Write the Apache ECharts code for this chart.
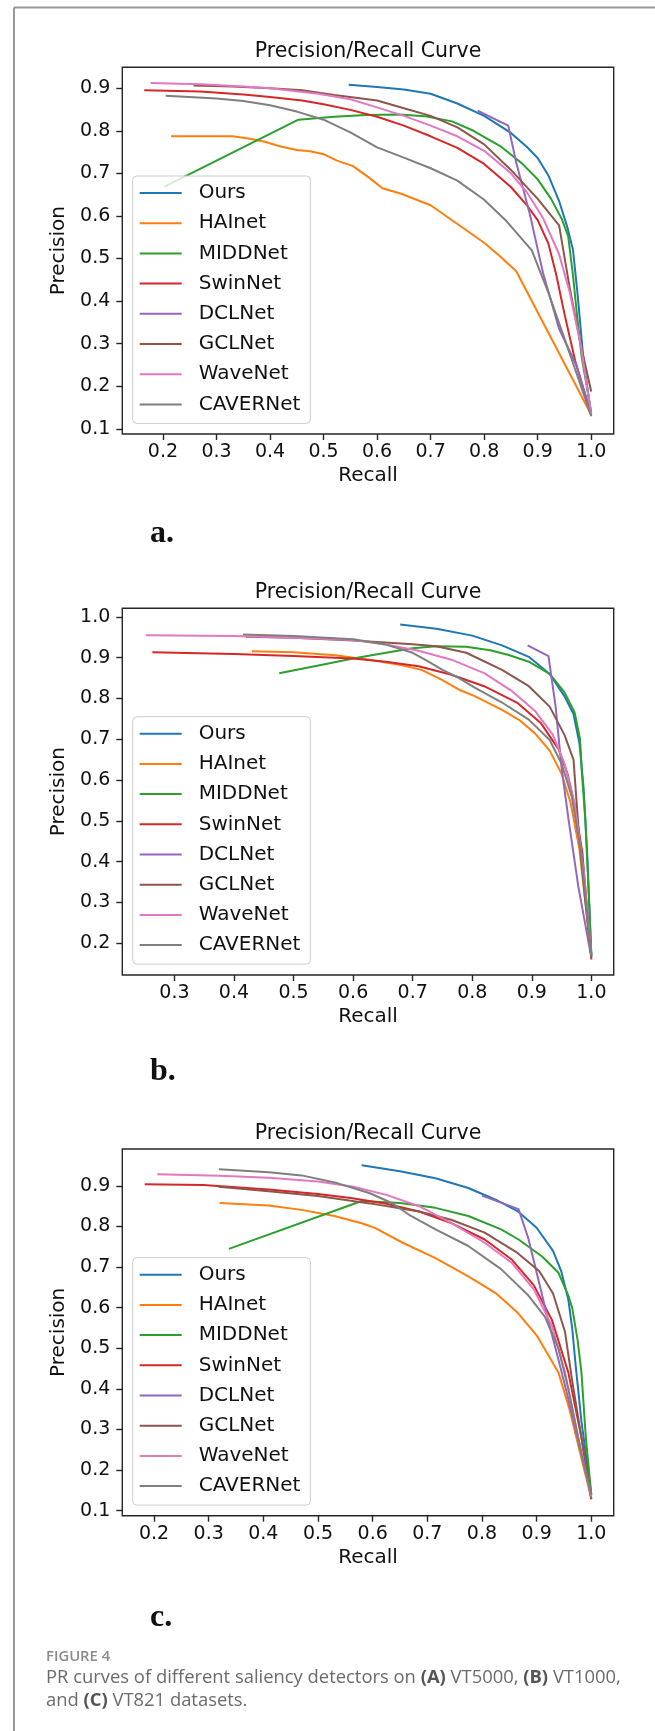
<!DOCTYPE html>
<html><head><meta charset="utf-8">
<script src="https://cdn.jsdelivr.net/npm/echarts@6/dist/echarts.min.js"></script>
<style>html,body{margin:0;padding:0;background:#fff;}#chart{width:655px;height:1731px;}</style>
</head><body><div id="chart"></div>
<script>
// ---------- data ----------
const SERIES_NAMES = ['Ours','HAInet','MIDDNet','SwinNet','DCLNet','GCLNet','WaveNet','CAVERNet'];

// panel a (VT5000)
const A_OURS = [[0.547,0.908],[0.6,0.903],[0.65,0.897],[0.7,0.887],[0.75,0.864],[0.8,0.835],[0.85,0.795],[0.88,0.762],[0.9,0.736],[0.92,0.695],[0.94,0.635],[0.955,0.575],[0.966,0.52],[0.975,0.41],[0.985,0.27],[1.0,0.13]];
const A_HAINET = [[0.215,0.787],[0.26,0.787],[0.33,0.787],[0.36,0.782],[0.39,0.774],[0.42,0.763],[0.45,0.755],[0.475,0.752],[0.5,0.745],[0.525,0.73],[0.555,0.717],[0.585,0.69],[0.61,0.665],[0.645,0.652],[0.7,0.625],[0.74,0.59],[0.8,0.537],[0.83,0.505],[0.86,0.47],[1.0,0.133]];
const A_MIDDNET = [[0.203,0.669],[0.453,0.826],[0.52,0.833],[0.58,0.837],[0.64,0.838],[0.69,0.834],[0.74,0.822],[0.78,0.8],[0.83,0.764],[0.87,0.724],[0.9,0.686],[0.925,0.64],[0.945,0.593],[0.957,0.552],[0.966,0.46],[0.974,0.36],[0.982,0.27],[1.0,0.14]];
const A_SWINNET = [[0.165,0.895],[0.27,0.892],[0.35,0.885],[0.4,0.879],[0.46,0.871],[0.5,0.862],[0.55,0.849],[0.6,0.833],[0.65,0.812],[0.7,0.787],[0.75,0.76],[0.8,0.722],[0.85,0.668],[0.88,0.625],[0.9,0.59],[0.92,0.535],[0.935,0.46],[0.95,0.37],[0.97,0.26],[1.0,0.133]];
const A_DCLNET = [[0.788,0.847],[0.845,0.812],[0.86,0.725],[0.885,0.606],[0.91,0.466],[0.94,0.335],[0.972,0.25],[1.0,0.135]];
const A_GCLNET = [[0.257,0.906],[0.33,0.904],[0.4,0.9],[0.46,0.895],[0.52,0.884],[0.6,0.871],[0.65,0.853],[0.7,0.835],[0.75,0.808],[0.8,0.768],[0.85,0.708],[0.9,0.64],[0.94,0.578],[0.96,0.43],[0.98,0.3],[1.0,0.188]];
const A_WAVENET = [[0.177,0.912],[0.27,0.909],[0.35,0.904],[0.4,0.9],[0.49,0.887],[0.55,0.874],[0.6,0.855],[0.65,0.835],[0.7,0.812],[0.75,0.787],[0.8,0.753],[0.85,0.7],[0.88,0.655],[0.91,0.595],[0.94,0.51],[0.96,0.42],[0.98,0.3],[1.0,0.135]];
const A_CAVERNET = [[0.205,0.882],[0.3,0.876],[0.35,0.87],[0.4,0.86],[0.45,0.845],[0.5,0.826],[0.55,0.796],[0.6,0.761],[0.65,0.737],[0.7,0.712],[0.75,0.683],[0.8,0.638],[0.84,0.59],[0.889,0.519],[0.92,0.42],[0.945,0.33],[0.97,0.24],[1.0,0.13]];

// panel b (VT1000)
const B_OURS = [[0.679,0.981],[0.74,0.971],[0.8,0.954],[0.85,0.93],[0.895,0.902],[0.93,0.86],[0.955,0.805],[0.97,0.762],[0.98,0.69],[0.987,0.58],[0.993,0.42],[1.0,0.17]];
const B_HAINET = [[0.43,0.916],[0.5,0.913],[0.57,0.906],[0.63,0.894],[0.68,0.882],[0.715,0.87],[0.75,0.845],[0.78,0.82],[0.805,0.805],[0.85,0.772],[0.88,0.746],[0.905,0.715],[0.93,0.672],[0.95,0.615],[0.965,0.545],[0.98,0.43],[1.0,0.17]];
const B_MIDDNET = [[0.476,0.862],[0.55,0.883],[0.6,0.898],[0.66,0.913],[0.7,0.923],[0.74,0.928],[0.79,0.927],[0.83,0.918],[0.86,0.907],[0.895,0.89],[0.93,0.86],[0.955,0.815],[0.972,0.765],[0.981,0.7],[0.984,0.62],[0.99,0.5],[0.995,0.34],[1.0,0.17]];
const B_SWINNET = [[0.263,0.913],[0.4,0.909],[0.5,0.904],[0.6,0.898],[0.655,0.89],[0.71,0.879],[0.765,0.858],[0.82,0.83],[0.875,0.79],[0.915,0.74],[0.945,0.675],[0.96,0.615],[0.972,0.54],[0.985,0.42],[1.0,0.16]];
const B_DCLNET = [[0.893,0.93],[0.928,0.904],[0.94,0.78],[0.95,0.63],[0.962,0.5],[0.978,0.34],[1.0,0.165]];
const B_GCLNET = [[0.42,0.951],[0.5,0.949],[0.6,0.942],[0.7,0.933],[0.74,0.928],[0.79,0.912],[0.85,0.87],[0.895,0.83],[0.93,0.78],[0.955,0.71],[0.97,0.65],[0.98,0.45],[0.99,0.3],[1.0,0.165]];
const B_WAVENET = [[0.252,0.955],[0.4,0.953],[0.5,0.949],[0.6,0.943],[0.655,0.932],[0.71,0.917],[0.765,0.895],[0.82,0.862],[0.865,0.82],[0.905,0.77],[0.935,0.712],[0.955,0.64],[0.972,0.54],[0.987,0.38],[1.0,0.17]];
const B_CAVERNET = [[0.415,0.957],[0.5,0.953],[0.6,0.945],[0.655,0.932],[0.7,0.912],[0.72,0.896],[0.75,0.87],[0.775,0.852],[0.805,0.826],[0.85,0.79],[0.895,0.748],[0.93,0.698],[0.95,0.64],[0.967,0.56],[0.983,0.42],[1.0,0.17]];

// panel c (VT821)
const C_OURS = [[0.58,0.951],[0.65,0.936],[0.715,0.919],[0.775,0.895],[0.825,0.866],[0.865,0.838],[0.9,0.797],[0.93,0.74],[0.945,0.69],[0.958,0.62],[0.965,0.55],[0.972,0.45],[0.982,0.32],[1.0,0.14]];
const C_HAINET = [[0.32,0.858],[0.41,0.852],[0.47,0.841],[0.53,0.826],[0.58,0.808],[0.605,0.796],[0.655,0.76],[0.715,0.722],[0.775,0.677],[0.825,0.636],[0.865,0.588],[0.9,0.532],[0.925,0.475],[0.94,0.44],[0.96,0.35],[1.0,0.13]];
const C_MIDDNET = [[0.337,0.745],[0.58,0.863],[0.65,0.858],[0.715,0.846],[0.775,0.826],[0.835,0.793],[0.867,0.768],[0.91,0.726],[0.94,0.686],[0.958,0.63],[0.965,0.6],[0.975,0.52],[0.982,0.44],[0.99,0.28],[1.0,0.14]];
const C_SWINNET = [[0.183,0.904],[0.29,0.902],[0.41,0.891],[0.5,0.88],[0.56,0.87],[0.625,0.856],[0.685,0.837],[0.745,0.808],[0.805,0.768],[0.855,0.718],[0.895,0.655],[0.928,0.57],[0.958,0.44],[0.982,0.28],[1.0,0.128]];
const C_DCLNET = [[0.8,0.876],[0.867,0.843],[0.885,0.77],[0.903,0.67],[0.922,0.565],[0.94,0.472],[0.958,0.375],[1.0,0.135]];
const C_GCLNET = [[0.318,0.898],[0.41,0.887],[0.5,0.875],[0.595,0.857],[0.685,0.837],[0.745,0.816],[0.805,0.785],[0.865,0.735],[0.905,0.69],[0.93,0.635],[0.952,0.54],[0.965,0.42],[0.982,0.28],[1.0,0.13]];
const C_WAVENET = [[0.206,0.929],[0.32,0.925],[0.41,0.92],[0.5,0.911],[0.565,0.898],[0.625,0.878],[0.685,0.85],[0.745,0.808],[0.805,0.76],[0.855,0.71],[0.895,0.645],[0.928,0.555],[0.952,0.44],[0.976,0.28],[1.0,0.135]];
const C_CAVERNET = [[0.319,0.941],[0.41,0.934],[0.47,0.926],[0.535,0.907],[0.595,0.882],[0.635,0.858],[0.67,0.826],[0.715,0.793],[0.775,0.752],[0.835,0.695],[0.885,0.63],[0.915,0.578],[0.94,0.5],[0.958,0.4],[0.982,0.24],[1.0,0.14]];

// tick values
const X_TICKS_A = [0.2,0.3,0.4,0.5,0.6,0.7,0.8,0.9,1.0];
const Y_TICKS_A = [0.1,0.2,0.3,0.4,0.5,0.6,0.7,0.8,0.9];
const X_TICKS_B = [0.3,0.4,0.5,0.6,0.7,0.8,0.9,1.0];
const Y_TICKS_B = [0.2,0.3,0.4,0.5,0.6,0.7,0.8,0.9,1.0];
const X_TICKS_C = [0.2,0.3,0.4,0.5,0.6,0.7,0.8,0.9,1.0];
const Y_TICKS_C = [0.1,0.2,0.3,0.4,0.5,0.6,0.7,0.8,0.9];
// axis ranges
const X_RANGE_A = [0.124, 1.042], Y_RANGE_A = [0.088, 0.949];
const X_RANGE_B = [0.2125, 1.0375], Y_RANGE_B = [0.122, 1.021];
const X_RANGE_C = [0.142, 1.041], Y_RANGE_C = [0.0875, 0.991];

const TITLE_TEXT = 'Precision/Recall Curve';
const PANEL_LABELS = ['a.', 'b.', 'c.'];

// ---------- styles / layout ----------
const COLORS = ['#1f77b4','#ff7f0e','#2ca02c','#d62728','#9467bd','#8c564b','#e377c2','#7f7f7f'];
const FONT = 'DejaVu Sans';
const PANELS = [
  {top: 67.3, legendTop: 176, labelY: 535, data: [A_OURS,A_HAINET,A_MIDDNET,A_SWINNET,A_DCLNET,A_GCLNET,A_WAVENET,A_CAVERNET], xr: X_RANGE_A, yr: Y_RANGE_A, xt: X_TICKS_A, yt: Y_TICKS_A},
  {top: 608.3, legendTop: 716.7, labelY: 1073, data: [B_OURS,B_HAINET,B_MIDDNET,B_SWINNET,B_DCLNET,B_GCLNET,B_WAVENET,B_CAVERNET], xr: X_RANGE_B, yr: Y_RANGE_B, xt: X_TICKS_B, yt: Y_TICKS_B},
  {top: 1149, legendTop: 1257.7, labelY: 1619, data: [C_OURS,C_HAINET,C_MIDDNET,C_SWINNET,C_DCLNET,C_GCLNET,C_WAVENET,C_CAVERNET], xr: X_RANGE_C, yr: Y_RANGE_C, xt: X_TICKS_C, yt: Y_TICKS_C}
];
const GRID_LEFT = 122.3, GRID_W = 491.4, GRID_H = 366.7;

const grid = [], xAxis = [], yAxis = [], series = [], legend = [], title = [], graphic = [];
const fmt = v => Number(v).toFixed(1);

PANELS.forEach((p, i) => {
  grid.push({left: GRID_LEFT, top: p.top, width: GRID_W, height: GRID_H, show: true,
    borderColor: '#262626', borderWidth: 1.4, backgroundColor: '#fff', containLabel: false});
  xAxis.push({type: 'value', gridIndex: i, min: p.xr[0], max: p.xr[1],
    name: 'Recall', nameLocation: 'middle', nameGap: 32,
    nameTextStyle: {fontFamily: FONT, fontSize: 20, color: '#111'},
    axisLine: {show: false}, splitLine: {show: false},
    axisTick: {show: true, inside: false, length: 6, customValues: p.xt, lineStyle: {color: '#262626', width: 1.4}},
    axisLabel: {show: true, customValues: p.xt, formatter: fmt, margin: 9, fontFamily: FONT, fontSize: 19, color: '#111'}
  });
  yAxis.push({type: 'value', gridIndex: i, min: p.yr[0], max: p.yr[1],
    name: 'Precision', nameLocation: 'middle', nameGap: 50, nameRotate: 90,
    nameTextStyle: {fontFamily: FONT, fontSize: 20, color: '#111'},
    axisLine: {show: false}, splitLine: {show: false},
    axisTick: {show: true, inside: false, length: 6, customValues: p.yt, lineStyle: {color: '#262626', width: 1.4}},
    axisLabel: {show: true, customValues: p.yt, formatter: fmt, margin: 12, fontFamily: FONT, fontSize: 19, color: '#111'}
  });
  SERIES_NAMES.forEach((name, k) => {
    series.push({type: 'line', name: name, xAxisIndex: i, yAxisIndex: i, data: p.data[k],
      showSymbol: false, symbol: 'none', smooth: false, clip: true,
      color: COLORS[k], itemStyle: {color: COLORS[k]}, lineStyle: {color: COLORS[k], width: 2}, z: 2 + k * 0.01});
  });
  legend.push({show: true, data: SERIES_NAMES, orient: 'vertical', left: 132.7, top: p.legendTop,
    icon: 'rect', itemWidth: 42, itemHeight: 2, itemGap: 6.2, padding: [5, 10, 7, 7],
    backgroundColor: 'rgba(255,255,255,0.8)', borderColor: '#cccccc', borderWidth: 1, borderRadius: 4,
    textStyle: {fontFamily: FONT, fontSize: 20, color: '#111', lineHeight: 24, padding: [0, 0, 0, 12]},
    selectedMode: false, z: 10});
  title.push({text: TITLE_TEXT, left: 368, top: p.top - 27.5, textAlign: 'center',
    textStyle: {fontFamily: FONT, fontSize: 20.5, fontWeight: 'normal', color: '#111', lineHeight: 24}, padding: 0});
  graphic.push({type: 'text', left: 150, top: p.labelY - 17,
    style: {text: PANEL_LABELS[i], font: 'bold 32px "Liberation Serif", serif', fill: '#111'}});
});

// page frame
graphic.push({type: 'line', shape: {x1: 14, y1: 7.5, x2: 655, y2: 7.5}, style: {stroke: '#999', lineWidth: 2}});
graphic.push({type: 'line', shape: {x1: 14, y1: 7.5, x2: 14, y2: 1731}, style: {stroke: '#999', lineWidth: 2}});
// caption
graphic.push({type: 'text', left: 46, top: 1649,
  style: {text: 'FIGURE 4', font: '600 14.8px "Open Sans", sans-serif', fill: '#8a8a8a'}});
graphic.push({type: 'text', left: 46, top: 1669,
  style: {text: '{n|PR curves of different saliency detectors on }{b|(A)}{n| VT5000, }{b|(B)}{n| VT1000,}',
    rich: {n: {font: '18.4px "Open Sans", sans-serif', fill: '#6b6b6b'}, b: {font: 'bold 18.4px "Open Sans", sans-serif', fill: '#555'}}}});
graphic.push({type: 'text', left: 46, top: 1692,
  style: {text: '{n|and }{b|(C)}{n| VT821 datasets.}',
    rich: {n: {font: '18.4px "Open Sans", sans-serif', fill: '#6b6b6b'}, b: {font: 'bold 18.4px "Open Sans", sans-serif', fill: '#555'}}}});

const chart = echarts.init(document.getElementById('chart'), null, {renderer: 'canvas'});
chart.setOption({animation: false, backgroundColor: '#fff', grid, xAxis, yAxis, series, legend, title, graphic, tooltip: {show: false}});
</script></body></html>
